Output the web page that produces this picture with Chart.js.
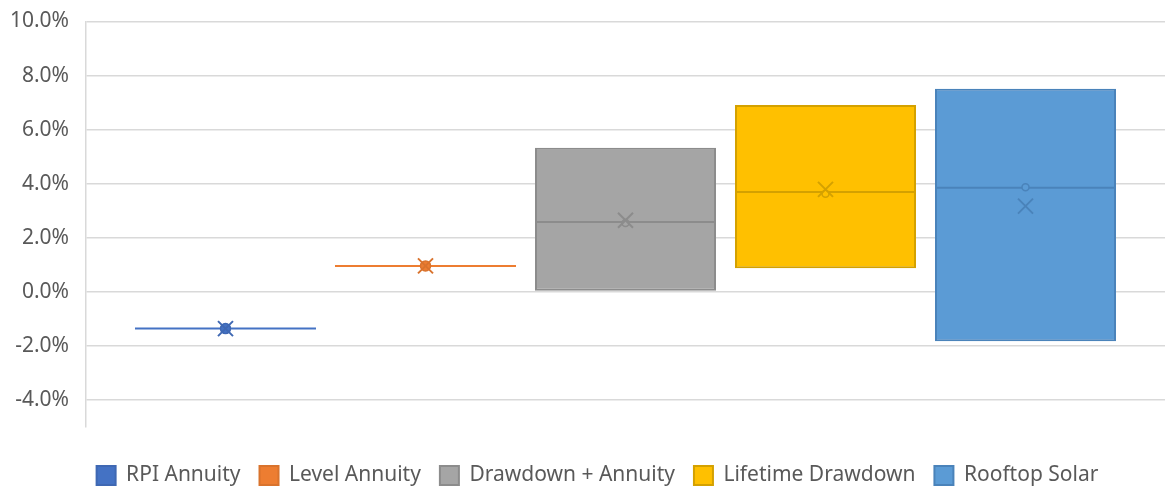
<!DOCTYPE html>
<html>
<head>
<meta charset="utf-8">
<script src="https://cdn.jsdelivr.net/npm/chart.js@4"></script>
<style>
  html, body { margin: 0; padding: 0; background: #ffffff; }
  #wrap { width: 1166px; height: 486px; }
</style>
</head>
<body>
<div id="wrap"><canvas id="c" width="1166" height="486"></canvas></div>
<script>
// Return distributions (% per year) for each option
const series = ['RPI Annuity', 'Level Annuity', 'Drawdown + Annuity', 'Lifetime Drawdown', 'Rooftop Solar'];
const q1     = [-1.36, 0.96, 0.04, 0.87, -1.83];
const q3     = [-1.36, 0.96, 5.33, 6.91, 7.51];
const median = [-1.36, 0.96, 2.58, 3.69, 3.85];
const mean   = [-1.36, 0.96, 2.65, 3.79, 3.17];
const inner  = [-1.36, 0.96, 2.55, 3.63, 3.87];
const yTicks = [10, 8, 6, 4, 2, 0, -2, -4];

const fills   = ['#4472C4', '#ED7D31', '#A5A5A5', '#FFC000', '#5B9BD5'];
const borders = ['#3F68B3', '#D9732D', '#8C8C8C', '#D4A100', '#4A83BA'];

const datasets = series.map((name, i) => ({
  label: name,
  data: [[q1[i], q3[i]]],
  backgroundColor: fills[i],
  borderColor: borders[i],
  borderWidth: 2,
  borderSkipped: false
}));

// Median line, inner point and mean marker for every box
const boxMarks = {
  id: 'boxMarks',
  afterDatasetsDraw(chart) {
    const ctx = chart.ctx;
    const y = chart.scales.y;
    chart.data.datasets.forEach((ds, i) => {
      const bar = chart.getDatasetMeta(i).data[0];
      if (!bar) return;
      const cx = bar.x, half = bar.width / 2;
      const flat = q1[i] === q3[i];
      ctx.save();
      // median
      const my = y.getPixelForValue(median[i]);
      ctx.strokeStyle = flat ? fills[i] : borders[i];
      ctx.lineWidth = 2;
      ctx.beginPath();
      ctx.moveTo(cx - half, my);
      ctx.lineTo(cx + half, my);
      ctx.stroke();
      // inner point
      const iy = y.getPixelForValue(inner[i]);
      ctx.beginPath();
      ctx.arc(cx, iy, flat ? 5 : 3.5, 0, Math.PI * 2);
      ctx.fillStyle = fills[i];
      ctx.fill();
      ctx.lineWidth = 1.5;
      ctx.strokeStyle = borders[i];
      ctx.stroke();
      // mean (x marker)
      const ay = y.getPixelForValue(mean[i]);
      const s = 7.5;
      ctx.lineWidth = 2;
      ctx.strokeStyle = borders[i];
      ctx.beginPath();
      ctx.moveTo(cx - s, ay - s); ctx.lineTo(cx + s, ay + s);
      ctx.moveTo(cx - s, ay + s); ctx.lineTo(cx + s, ay - s);
      ctx.stroke();
      ctx.restore();
    });
  }
};

// Tighten the space under the legend row
const legendTrim = {
  id: 'legendTrim',
  afterInit(chart) {
    const lg = chart.legend;
    if (!lg || lg._trimmed) return;
    const fit = lg.fit.bind(lg);
    lg.fit = function () { fit(); this.height -= 10; };
    lg._trimmed = true;
  }
};

const FONT = "'Noto Sans', 'Open Sans', sans-serif";

new Chart(document.getElementById('c'), {
  type: 'bar',
  data: { labels: [''], datasets },
  options: {
    responsive: false,
    animation: false,
    devicePixelRatio: 1,
    layout: { padding: { top: 21.5, right: 1, left: 30, bottom: 0 } },
    datasets: { bar: { categoryPercentage: 0.9268, barPercentage: 0.905 } },
    scales: {
      x: {
        display: true,
        afterFit(scale) { scale.height = 19; },
        ticks: { display: false },
        grid: { display: false },
        border: { display: false }
      },
      y: {
        min: -5,
        max: 10,
        afterBuildTicks(scale) {
          scale.ticks = yTicks.map(v => ({ value: v }));
        },
        afterFit(scale) {
          scale.width = 56;
          scale.paddingTop = 0;
          scale.paddingBottom = 0;
          // let the tick labels run into the left margin
          scale._computeLabelArea = () => undefined;
        },
        ticks: {
          color: '#595959',
          font: { family: FONT, size: 21 },
          padding: 17,
          callback: v => v.toFixed(1) + '%'
        },
        grid: { color: '#D9D9D9', lineWidth: 1.5, drawTicks: false },
        border: { display: true, color: '#D9D9D9', width: 1.5 }
      }
    },
    plugins: {
      legend: {
        position: 'bottom',
        labels: {
          color: '#595959',
          font: { family: FONT, size: 21 },
          boxWidth: 19,
          boxHeight: 19,
          padding: 19,
          generateLabels(chart) {
            return chart.data.datasets.map((ds, i) => ({
              text: ds.label,
              fillStyle: fills[i],
              strokeStyle: borders[i],
              lineWidth: 2,
              fontColor: '#595959',
              datasetIndex: i,
              hidden: false
            }));
          }
        }
      },
      tooltip: { enabled: false }
    }
  },
  plugins: [boxMarks, legendTrim]
});
</script>
</body>
</html>
